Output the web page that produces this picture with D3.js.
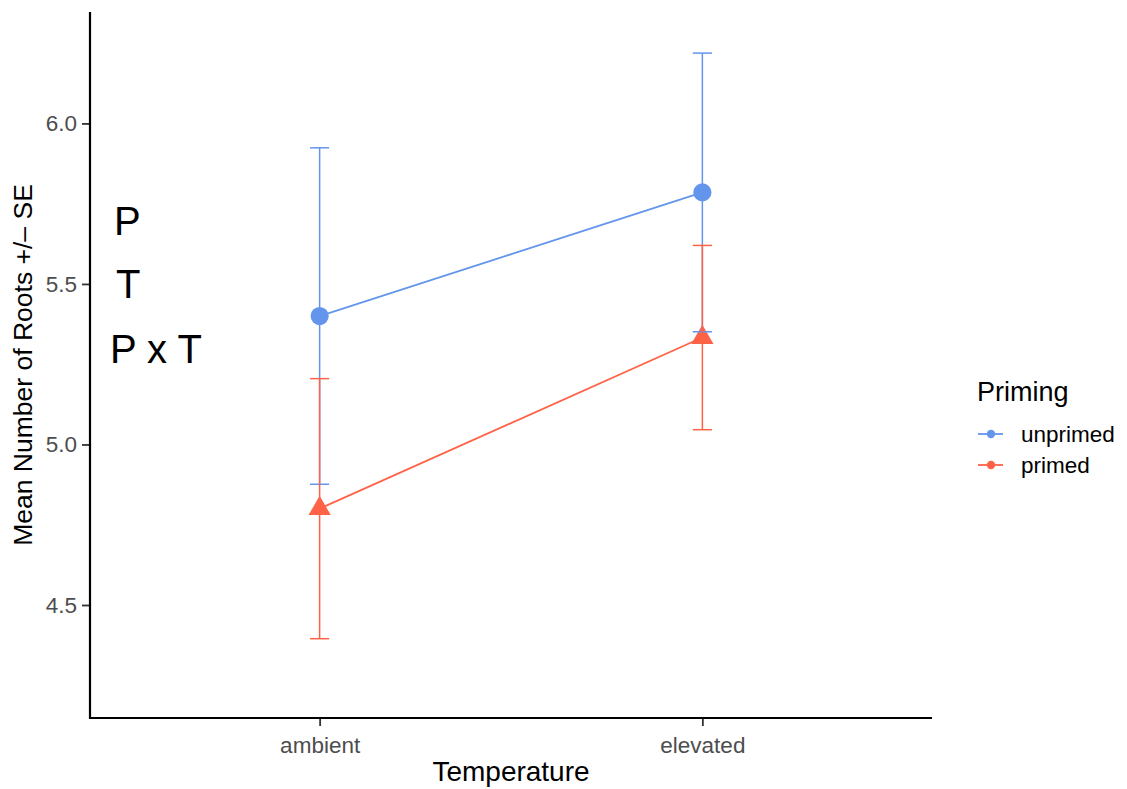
<!DOCTYPE html>
<html>
<head>
<meta charset="utf-8">
<script src="https://cdn.jsdelivr.net/npm/d3@7"></script>
<style>
  html, body { margin: 0; padding: 0; background: #fff; }
  svg { display: block; font-family: "Liberation Sans", Arial, Helvetica, sans-serif; }
</style>
</head>
<body>
<svg id="chart" width="1127" height="789"></svg>
<script>
// Temperature levels on the x axis
const temperatures = ["ambient", "elevated"];
// Priming groups (legend order)
const groups = ["unprimed", "primed"];
// Mean number of roots per group, one value per temperature
const meanUnprimed = [5.40, 5.785];
const meanPrimed = [4.80, 5.333];
// Standard errors
const seUnprimed = [0.524, 0.434];
const sePrimed = [0.405, 0.287];
// Y axis ticks
const yTicks = [4.5, 5.0, 5.5, 6.0];
// Significance annotation lines at the left of the panel
const annotations = ["P", "T", "P x T"];

const colours = { unprimed: "#6495ED", primed: "#FF6347" };
const shapes = { unprimed: d3.symbolCircle, primed: d3.symbolTriangle };

const series = [
  { name: "unprimed", mean: meanUnprimed, se: seUnprimed },
  { name: "primed", mean: meanPrimed, se: sePrimed }
];

const svg = d3.select("#chart");
const panel = { left: 90, right: 932, top: 12, bottom: 718 };

const x = d3.scalePoint()
  .domain(temperatures)
  .range([panel.left, panel.right])
  .padding(0.6);

const y = d3.scaleLinear()
  .domain([4.148, 6.347])
  .range([panel.bottom, panel.top]);

const capHalf = x.step() * 0.025;

// connecting lines
const line = d3.line()
  .x((d, i) => x(temperatures[i]))
  .y(d => y(d));

svg.append("g").selectAll("path")
  .data(series)
  .join("path")
  .attr("d", s => line(s.mean))
  .attr("fill", "none")
  .attr("stroke", s => colours[s.name])
  .attr("stroke-width", 1.8);

// points
svg.append("g").selectAll("g")
  .data(series)
  .join("g")
  .each(function (s) {
    d3.select(this).selectAll("path")
      .data(s.mean)
      .join("path")
      .attr("transform", (d, i) => `translate(${x(temperatures[i])},${y(d)})`)
      .attr("d", d3.symbol().type(shapes[s.name]).size(s.name === "primed" ? 215 : 260))
      .attr("fill", colours[s.name]);
  });

// error bars (mean +/- SE)
series.forEach(s => {
  const g = svg.append("g")
    .attr("stroke", colours[s.name])
    .attr("stroke-width", 1.5)
    .attr("fill", "none");
  s.mean.forEach((m, i) => {
    const cx = x(temperatures[i]);
    const lo = y(m - s.se[i]);
    const hi = y(m + s.se[i]);
    g.append("line").attr("x1", cx).attr("x2", cx).attr("y1", lo).attr("y2", hi);
    g.append("line").attr("x1", cx - capHalf).attr("x2", cx + capHalf).attr("y1", hi).attr("y2", hi);
    g.append("line").attr("x1", cx - capHalf).attr("x2", cx + capHalf).attr("y1", lo).attr("y2", lo);
  });
});

// axes
const yAxis = svg.append("g")
  .attr("transform", `translate(${panel.left},0)`)
  .call(d3.axisLeft(y).tickValues(yTicks).tickFormat(d3.format(".1f")).tickSize(8).tickPadding(5));
const xAxis = svg.append("g")
  .attr("transform", `translate(0,${panel.bottom})`)
  .call(d3.axisBottom(x).tickSize(8).tickPadding(6));

[yAxis, xAxis].forEach(a => {
  a.select(".domain").remove();
  a.selectAll(".tick line").attr("stroke", "#333").attr("stroke-width", 1.8);
  a.selectAll(".tick text")
    .attr("fill", "#4d4d4d")
    .style("font-size", "22.5px")
    .style("font-family", "'Liberation Sans', Arial, sans-serif");
});
xAxis.selectAll(".tick text").attr("dy", "0.95em");

// axis lines
svg.append("line")
  .attr("x1", panel.left).attr("x2", panel.left)
  .attr("y1", panel.top).attr("y2", panel.bottom + 1)
  .attr("stroke", "#000").attr("stroke-width", 2.2);
svg.append("line")
  .attr("x1", panel.left - 1).attr("x2", panel.right)
  .attr("y1", panel.bottom).attr("y2", panel.bottom)
  .attr("stroke", "#000").attr("stroke-width", 2.2);

// axis titles
svg.append("text")
  .attr("x", (panel.left + panel.right) / 2)
  .attr("y", 781)
  .attr("text-anchor", "middle")
  .style("font-size", "28px")
  .attr("fill", "#000")
  .text("Temperature");

svg.append("text")
  .attr("transform", `translate(32,${(panel.top + panel.bottom) / 2}) rotate(-90)`)
  .attr("text-anchor", "middle")
  .style("font-size", "26.5px")
  .attr("fill", "#000")
  .text("Mean Number of Roots +/\u2013 SE");

// annotations
const annX = [114, 116, 110];
const annY = [235, 298, 363];
svg.append("g").selectAll("text")
  .data(annotations)
  .join("text")
  .attr("x", (d, i) => annX[i])
  .attr("y", (d, i) => annY[i])
  .style("font-size", "40px")
  .attr("fill", "#000")
  .text(d => d);

// legend
const legend = svg.append("g").attr("transform", "translate(977,0)");
legend.append("text")
  .attr("x", 0).attr("y", 401)
  .style("font-size", "27px")
  .attr("fill", "#000")
  .text("Priming");

const items = legend.selectAll("g.item")
  .data(groups)
  .join("g")
  .attr("class", "item")
  .attr("transform", (d, i) => `translate(0,${434 + i * 31})`);
items.append("line")
  .attr("x1", 1).attr("x2", 26)
  .attr("stroke", d => colours[d])
  .attr("stroke-width", 1.8);
items.append("circle")
  .attr("cx", 14).attr("r", 4.2)
  .attr("fill", d => colours[d]);
items.append("text")
  .attr("x", 44).attr("y", 8)
  .style("font-size", "22.5px")
  .attr("fill", "#000")
  .text(d => d);
</script>
</body>
</html>
